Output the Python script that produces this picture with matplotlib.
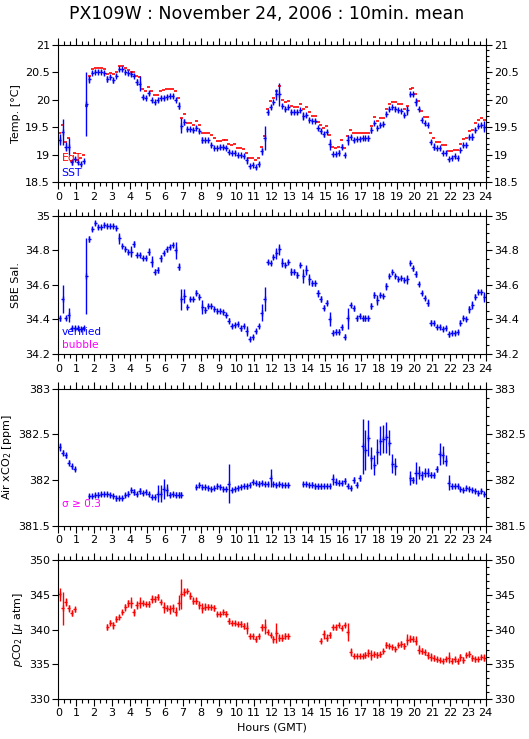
import numpy as np
import matplotlib
matplotlib.use("Agg")
import matplotlib.pyplot as plt
from matplotlib.ticker import MultipleLocator

plt.rcParams['font.family'] = ['DejaVu Sans']
plt.rcParams['mathtext.fontset'] = 'dejavusans'

nan = np.nan

# 10-minute means, one row per hour (GMT)
sst = [19.27, 19.41, 19.15, 19.15, 18.86, 18.93,
       18.86, 18.83, 18.88, 19.93, 20.37, 20.49,
       20.51, 20.51, 20.51, 20.48, 20.38, 20.42,
       20.35, 20.44, 20.55, 20.55, 20.50, 20.48,
       20.47, 20.44, 20.32, 20.29, 20.05, 20.04,
       20.12, 19.99, 19.95, 19.99, 20.03, 20.03,
       20.05, 20.06, 20.07, 20.00, 19.89, 19.53,
       19.60, 19.47, 19.46, 19.45, 19.49, 19.43,
       19.27, 19.26, 19.26, 19.18, 19.13, 19.13,
       19.14, 19.14, 19.13, 19.05, 19.04, 19.04,
       18.99, 18.99, 18.98, 18.90, 18.79, 18.82,
       18.77, 18.83, 19.06, 19.30, 19.77, 19.87,
       19.95, 20.10, 20.10, 19.89, 19.83, 19.86,
       19.78, 19.78, 19.78, 19.81, 19.70, 19.72,
       19.64, 19.62, 19.62, 19.48, 19.43, 19.37,
       19.42, 19.19, 19.01, 19.01, 19.04, 19.15,
       19.00, 19.27, 19.33, 19.27, 19.28, 19.29,
       19.30, 19.30, 19.30, 19.45, 19.57, 19.49,
       19.54, 19.56, 19.74, 19.83, 19.86, 19.83,
       19.81, 19.80, 19.72, 19.81, 20.10, 20.10,
       19.96, 19.84, 19.64, 19.57, 19.55, 19.23,
       19.15, 19.12, 19.12, 19.04, 19.04, 18.92,
       18.95, 18.97, 18.95, 19.09, 19.17, 19.18,
       19.32, 19.33, 19.45, 19.52, 19.55, 19.51]

sst_sd = [0.10, 0.24, 0.08, 0.15, 0.05, 0.03,
          0.03, 0.03, 0.03, 0.58, 0.07, 0.03,
          0.03, 0.03, 0.03, 0.03, 0.05, 0.03,
          0.05, 0.03, 0.03, 0.03, 0.03, 0.03,
          0.03, 0.03, 0.05, 0.14, 0.04, 0.03,
          0.03, 0.03, 0.03, 0.03, 0.03, 0.03,
          0.03, 0.03, 0.03, 0.03, 0.06, 0.14,
          0.05, 0.03, 0.03, 0.03, 0.03, 0.03,
          0.06, 0.03, 0.03, 0.03, 0.03, 0.03,
          0.03, 0.03, 0.03, 0.03, 0.03, 0.03,
          0.03, 0.03, 0.03, 0.06, 0.03, 0.03,
          0.03, 0.03, 0.07, 0.22, 0.04, 0.03,
          0.03, 0.10, 0.21, 0.03, 0.03, 0.03,
          0.03, 0.03, 0.03, 0.03, 0.07, 0.03,
          0.03, 0.03, 0.03, 0.03, 0.03, 0.04,
          0.03, 0.10, 0.03, 0.03, 0.05, 0.04,
          0.03, 0.09, 0.03, 0.03, 0.03, 0.03,
          0.03, 0.03, 0.05, 0.05, 0.03, 0.03,
          0.03, 0.03, 0.03, 0.03, 0.03, 0.03,
          0.03, 0.03, 0.04, 0.08, 0.03, 0.03,
          0.08, 0.03, 0.03, 0.03, 0.03, 0.03,
          0.07, 0.03, 0.03, 0.03, 0.03, 0.03,
          0.03, 0.03, 0.03, 0.03, 0.03, 0.03,
          0.03, 0.07, 0.03, 0.03, 0.03, 0.10]

eqt = [19.39, 19.54, 19.24, 19.31, 18.88, 19.04,
       18.90, 18.95, 18.99, 19.89, 20.44, 20.55,
       20.57, 20.57, 20.57, 20.55, 20.47, 20.48,
       20.46, 20.50, 20.61, 20.61, 20.57, 20.54,
       20.51, 20.51, 20.44, 20.42, 20.19, 20.16,
       20.24, 20.15, 20.09, 20.09, 20.15, 20.18,
       20.19, 20.19, 20.19, 20.15, 20.04, 19.66,
       19.75, 19.58, 19.58, 19.54, 19.61, 19.55,
       19.39, 19.40, 19.40, 19.36, 19.30, 19.25,
       19.25, 19.27, 19.27, 19.19, 19.18, 19.19,
       19.12, 19.12, 19.11, 19.04, 18.95, 18.95,
       18.91, 18.94, 19.15, 19.34, 19.84, 19.97,
       20.04, 20.16, 20.25, 20.00, 19.95, 19.98,
       19.89, 19.87, 19.86, 19.93, 19.84, 19.86,
       19.77, 19.71, 19.71, 19.60, 19.54, 19.48,
       19.53, 19.36, 19.14, 19.12, 19.14, 19.27,
       19.12, 19.34, 19.45, 19.39, 19.39, 19.40,
       19.40, 19.40, 19.39, 19.53, 19.68, 19.62,
       19.66, 19.66, 19.83, 19.92, 19.96, 19.95,
       19.92, 19.92, 19.84, 19.89, 20.19, 20.21,
       20.10, 19.98, 19.80, 19.68, 19.68, 19.39,
       19.30, 19.23, 19.23, 19.17, 19.17, 19.06,
       19.07, 19.09, 19.09, 19.19, 19.28, 19.30,
       19.44, 19.45, 19.57, 19.63, 19.66, 19.64]

sal = [34.406, 34.518, 34.406, 34.426, 34.352, 34.348,
       34.348, 34.345, 34.348, 34.650, 34.865, 34.923,
       34.956, 34.936, 34.936, 34.946, 34.940, 34.942,
       34.942, 34.927, 34.869, 34.826, 34.805, 34.792,
       34.792, 34.836, 34.773, 34.773, 34.753, 34.753,
       34.792, 34.734, 34.676, 34.686, 34.753, 34.786,
       34.805, 34.821, 34.830, 34.800, 34.705, 34.516,
       34.535, 34.474, 34.516, 34.516, 34.555, 34.531,
       34.474, 34.455, 34.478, 34.478, 34.458, 34.449,
       34.449, 34.445, 34.426, 34.393, 34.362, 34.368,
       34.372, 34.348, 34.362, 34.333, 34.285, 34.300,
       34.333, 34.362, 34.439, 34.520, 34.730, 34.728,
       34.763, 34.782, 34.805, 34.728, 34.715, 34.730,
       34.676, 34.676, 34.657, 34.715, 34.651, 34.686,
       34.632, 34.609, 34.609, 34.551, 34.518, 34.468,
       34.497, 34.402, 34.323, 34.329, 34.329, 34.354,
       34.300, 34.406, 34.483, 34.464, 34.406, 34.422,
       34.406, 34.406, 34.406, 34.478, 34.541, 34.512,
       34.541, 34.537, 34.593, 34.651, 34.676, 34.653,
       34.634, 34.641, 34.628, 34.632, 34.724, 34.695,
       34.663, 34.603, 34.555, 34.522, 34.497, 34.381,
       34.377, 34.358, 34.358, 34.343, 34.352, 34.314,
       34.323, 34.323, 34.325, 34.381, 34.410, 34.402,
       34.458, 34.483, 34.531, 34.560, 34.560, 34.531]

sal_sd = [0.015, 0.080, 0.012, 0.040, 0.012, 0.012,
          0.012, 0.012, 0.012, 0.220, 0.015, 0.012,
          0.012, 0.012, 0.012, 0.012, 0.012, 0.012,
          0.012, 0.012, 0.030, 0.012, 0.012, 0.012,
          0.030, 0.015, 0.012, 0.012, 0.012, 0.012,
          0.020, 0.030, 0.015, 0.015, 0.020, 0.012,
          0.015, 0.012, 0.012, 0.050, 0.020, 0.060,
          0.040, 0.012, 0.012, 0.012, 0.015, 0.015,
          0.040, 0.015, 0.012, 0.012, 0.012, 0.012,
          0.012, 0.012, 0.012, 0.015, 0.012, 0.012,
          0.012, 0.015, 0.012, 0.030, 0.012, 0.012,
          0.012, 0.012, 0.050, 0.070, 0.012, 0.012,
          0.012, 0.030, 0.030, 0.025, 0.012, 0.012,
          0.020, 0.015, 0.015, 0.012, 0.040, 0.030,
          0.030, 0.015, 0.015, 0.020, 0.015, 0.015,
          0.015, 0.040, 0.015, 0.015, 0.015, 0.015,
          0.015, 0.060, 0.012, 0.015, 0.015, 0.012,
          0.015, 0.015, 0.015, 0.015, 0.015, 0.030,
          0.012, 0.012, 0.020, 0.012, 0.012, 0.012,
          0.012, 0.012, 0.012, 0.025, 0.012, 0.015,
          0.020, 0.012, 0.012, 0.012, 0.020, 0.015,
          0.012, 0.012, 0.012, 0.012, 0.012, 0.015,
          0.012, 0.012, 0.012, 0.015, 0.012, 0.012,
          0.020, 0.025, 0.015, 0.012, 0.012, 0.030]

xco2 = [382.36, 382.30, 382.27, 382.19, 382.15, 382.12,
        nan, nan, nan, nan, 381.82, 381.83,
        381.84, 381.84, 381.85, 381.85, 381.85, 381.84,
        381.82, 381.80, 381.80, 381.80, 381.84, 381.85,
        381.89, 381.87, 381.85, 381.88, 381.86, 381.87,
        381.85, 381.81, 381.81, 381.85, 381.85, 381.90,
        381.89, 381.84, 381.85, 381.84, 381.84, 381.84,
        nan, nan, nan, nan, 381.92, 381.94,
        381.92, 381.92, 381.91, 381.90, 381.91, 381.93,
        381.92, 381.90, 381.90, 381.96, 381.89, 381.90,
        381.91, 381.92, 381.93, 381.93, 381.95, 381.98,
        381.97, 381.96, 381.97, 381.96, 381.96, 382.02,
        381.96, 381.95, 381.96, 381.95, 381.95, 381.95,
        nan, nan, nan, nan, 381.96, 381.96,
        381.95, 381.95, 381.93, 381.93, 381.93, 381.93,
        381.93, 381.93, 382.01, 381.98, 381.97, 381.97,
        381.99, 381.93, 381.91, 382.00, 381.95, 382.02,
        382.37, 382.33, 382.46, 382.24, 382.16, 382.31,
        382.43, 382.45, 382.47, 382.41, 382.18, 382.15,
        nan, nan, nan, nan, 382.02, 382.00,
        382.08, 382.08, 382.05, 382.08, 382.08, 382.06,
        382.05, 382.12, 382.28, 382.27, 382.21, 381.97,
        381.93, 381.93, 381.93, 381.90, 381.89, 381.91,
        381.90, 381.89, 381.88, 381.86, 381.88, 381.85]

xco2_sd = [0.04, 0.03, 0.025, 0.03, 0.025, 0.025,
           0, 0, 0, 0, 0.022, 0.022,
           0.022, 0.025, 0.022, 0.022, 0.022, 0.022,
           0.022, 0.025, 0.022, 0.022, 0.022, 0.03,
           0.022, 0.03, 0.022, 0.03, 0.022, 0.022,
           0.022, 0.022, 0.022, 0.09, 0.09, 0.11,
           0.07, 0.03, 0.022, 0.03, 0.025, 0.025,
           0, 0, 0, 0, 0.022, 0.022,
           0.022, 0.022, 0.022, 0.022, 0.022, 0.03,
           0.022, 0.022, 0.022, 0.21, 0.022, 0.022,
           0.022, 0.022, 0.022, 0.025, 0.022, 0.022,
           0.022, 0.03, 0.022, 0.022, 0.022, 0.10,
           0.022, 0.022, 0.022, 0.022, 0.022, 0.022,
           0, 0, 0, 0, 0.022, 0.022,
           0.022, 0.03, 0.03, 0.03, 0.03, 0.022,
           0.022, 0.022, 0.06, 0.04, 0.03, 0.022,
           0.03, 0.022, 0.022, 0.03, 0.03, 0.03,
           0.30, 0.22, 0.20, 0.12, 0.11, 0.14,
           0.16, 0.15, 0.17, 0.14, 0.10, 0.09,
           0, 0, 0, 0, 0.08, 0.03,
           0.12, 0.07, 0.05, 0.05, 0.05, 0.03,
           0.03, 0.03, 0.12, 0.10, 0.06, 0.08,
           0.03, 0.022, 0.022, 0.022, 0.022, 0.022,
           0.022, 0.022, 0.022, 0.022, 0.022, 0.022]

pco2 = [345.1, 343.1, 344.0, 343.1, 342.4, 342.9,
        nan, nan, nan, nan, nan, nan,
        nan, nan, nan, nan, 340.4, 341.0,
        340.6, 341.5, 341.8, 342.5, 343.2, 343.8,
        343.9, 342.5, 343.6, 343.9, 343.8, 343.7,
        343.7, 344.4, 344.4, 344.7, 344.0, 343.2,
        343.1, 342.9, 343.1, 342.6, 343.9, 345.1,
        345.4, 345.6, 344.9, 344.2, 344.2, 343.6,
        343.1, 343.3, 343.3, 343.2, 343.1, 342.2,
        342.2, 342.5, 342.3, 341.2, 340.9, 340.9,
        340.8, 340.8, 340.5, 340.2, 339.0, 339.0,
        338.6, 339.0, 340.3, 340.4, 339.7, 339.2,
        338.6, 339.5, 338.8, 338.8, 339.1, 339.0,
        nan, nan, nan, nan, nan, nan,
        nan, nan, nan, nan, 338.4, 339.3,
        338.8, 339.2, 340.3, 340.3, 340.6, 340.2,
        340.6, 339.7, 336.8, 336.2, 336.2, 336.2,
        336.2, 336.3, 336.6, 336.3, 336.4, 336.3,
        336.4, 336.9, 337.8, 337.6, 337.5, 337.2,
        337.8, 337.9, 337.6, 338.5, 338.7, 338.7,
        338.4, 337.1, 336.9, 336.7, 336.3, 336.0,
        335.9, 335.7, 335.6, 335.5, 335.7, 335.9,
        335.5, 335.7, 335.4, 336.0, 335.6, 336.3,
        336.5, 335.9, 335.7, 335.7, 336.0, 335.9]

pco2_sd = [0.9, 2.4, 0.6, 0.5, 0.4, 0.4,
           0, 0, 0, 0, 0, 0,
           0, 0, 0, 0, 0.4, 0.4,
           0.5, 0.4, 0.3, 0.3, 0.5, 0.5,
           0.8, 0.5, 0.6, 0.8, 0.3, 0.3,
           0.5, 0.6, 0.4, 0.4, 0.3, 0.8,
           0.4, 0.6, 0.6, 0.6, 1.1, 2.2,
           0.6, 0.3, 0.5, 0.5, 0.5, 0.6,
           0.7, 0.5, 0.4, 0.4, 0.4, 0.3,
           0.3, 0.3, 0.4, 0.4, 0.3, 0.3,
           0.3, 0.5, 0.4, 0.9, 0.3, 0.4,
           0.4, 0.4, 0.5, 1.1, 0.3, 0.3,
           0.5, 1.4, 0.5, 0.5, 0.4, 0.4,
           0, 0, 0, 0, 0, 0,
           0, 0, 0, 0, 0.4, 0.6,
           0.5, 0.4, 0.3, 0.3, 0.3, 0.3,
           0.3, 1.3, 0.6, 0.3, 0.3, 0.3,
           0.3, 0.4, 0.6, 0.7, 0.4, 0.4,
           0.3, 0.3, 0.4, 0.3, 0.3, 0.3,
           0.3, 0.4, 0.4, 0.8, 0.5, 0.3,
           0.6, 0.6, 0.4, 0.4, 0.5, 0.6,
           0.4, 0.4, 0.3, 0.3, 0.3, 0.8,
           0.4, 0.4, 0.4, 0.5, 0.4, 0.3,
           0.4, 0.4, 0.4, 0.3, 0.3, 0.5]

hours = (np.arange(len(sst)) + 0.5) / 6.0
hour_ticks = np.arange(0, 25, 1)

BLUE = '#0000ff'
RED = '#ff0000'
MAG = '#ff00ff'

fig = plt.figure(figsize=(5.29, 7.39), dpi=100)
fig.text(0.504, 1 - 14 / 739, "PX109W : November 24, 2006 : 10min. mean",
         ha='center', va='center', fontsize=12.5)

L, W = 58.3 / 529, 427.4 / 529
boxes = [(44.7, 182.3), (215.7, 354.0), (388.6, 525.7), (560.4, 698.7)]
axes = []
for top, bot in boxes:
    ax = fig.add_axes([L, 1 - bot / 739, W, (bot - top) / 739])
    axes.append(ax)


def style(ax, ylim, ystep, yminor):
    ax.set_xlim(0, 24)
    ax.set_ylim(*ylim)
    ax.set_xticks(hour_ticks)
    ax.set_xticklabels([str(h) for h in hour_ticks])
    ax.xaxis.set_minor_locator(MultipleLocator(1 / 3))
    ax.yaxis.set_major_locator(MultipleLocator(ystep))
    ax.yaxis.set_minor_locator(MultipleLocator(yminor))
    ax.yaxis.set_major_formatter(matplotlib.ticker.FuncFormatter(lambda v, p: '%g' % round(v, 3)))
    ax.tick_params(axis='x', which='major', top=True, bottom=True, direction='out',
                   length=5, width=0.8, labelsize=8, pad=2)
    ax.tick_params(axis='x', which='minor', top=True, bottom=True, direction='out',
                   length=3, width=0.8)
    ax.tick_params(axis='y', which='major', left=True, right=True, direction='out',
                   length=4, width=0.8, labelsize=8, labelright=True, pad=2)
    ax.tick_params(axis='y', which='minor', left=False, right=True, direction='out',
                   length=2.5, width=0.8)
    for s in ax.spines.values():
        s.set_linewidth(0.8)


def plus(ax, y, sd, color):
    # "+" glyph for each 10-min mean: horizontal bar = interval, vertical = std
    ax.errorbar(hours, y, yerr=sd, xerr=0.085, fmt='|', ms=4, mew=1.0,
                color=color, ecolor=color, elinewidth=1.0, capsize=0)


# panel 1: temperatures
ax = axes[0]
ax.errorbar(hours, eqt, xerr=0.085, fmt='none', ecolor=RED, elinewidth=1.2, capsize=0)
plus(ax, sst, sst_sd, BLUE)
style(ax, (18.5, 21), 0.5, 0.1)
ax.set_ylabel("Temp. [°C]", fontsize=8, labelpad=3)
ax.text(0.008, 0.174, "EqT", color=RED, transform=ax.transAxes, fontsize=7.8, va='center')
ax.text(0.008, 0.07, "SST", color=BLUE, transform=ax.transAxes, fontsize=7.8, va='center')

# panel 2: salinity
ax = axes[1]
plus(ax, sal, sal_sd, BLUE)
style(ax, (34.2, 35), 0.2, 0.05)
ax.set_ylabel("SBE Sal.", fontsize=8, labelpad=3)
ax.text(0.008, 0.157, "verified", color=BLUE, transform=ax.transAxes, fontsize=7.6, va='center')
ax.text(0.008, 0.065, "bubble", color=MAG, transform=ax.transAxes, fontsize=7.6, va='center')

# panel 3: air xCO2
ax = axes[2]
plus(ax, xco2, xco2_sd, BLUE)
style(ax, (381.5, 383), 0.5, 0.1)
ax.set_ylabel("Air xCO$_2$ [ppm]", fontsize=8, labelpad=3)
ax.text(0.008, 0.156, "σ ≥ 0.3", color=MAG, transform=ax.transAxes, fontsize=7.6, va='center')

# panel 4: pCO2
ax = axes[3]
plus(ax, pco2, pco2_sd, RED)
style(ax, (330, 350), 5, 1)
ax.set_ylabel("$\\mathit{p}$CO$_2$ [$\\mu$ atm]", fontsize=8, labelpad=3)
ax.set_xlabel("Hours (GMT)", fontsize=8, labelpad=3)

fig.savefig("out.png", dpi=100)
